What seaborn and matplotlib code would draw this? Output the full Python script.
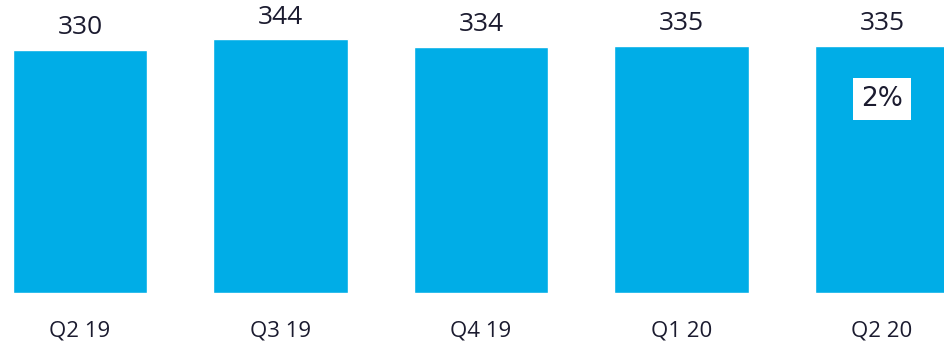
import pandas as pd
import numpy as np
import seaborn as sns
import matplotlib.pyplot as plt

# quarterly values
quarters = ['Q2 19', 'Q3 19', 'Q4 19', 'Q1 20', 'Q2 20']
values = [330, 344, 334, 335, 335]
growth_label = '2%'

bar_color = '#00ADE7'
text_color = '#1B1B2F'

sns.set_style('white')
plt.rcParams['font.family'] = ['Open Sans', 'DejaVu Sans']

df = pd.DataFrame({'quarter': quarters, 'value': values})

fig = plt.figure(figsize=(9.45, 3.44), dpi=100)
ax = fig.add_axes([0, 51 / 344, 1, 293 / 344])

sns.barplot(data=df, x='quarter', y='value', color=bar_color, saturation=1,
            width=0.67, ax=ax)

ax.set_xlim(-0.399, 4.314)
ax.set_ylim(0, 397.6)

# value labels above each bar
for i, v in enumerate(values):
    ax.annotate(str(v), (i, v), xytext=(0, 16), textcoords='offset points',
                ha='center', va='center', fontsize=19, color=text_color)

# growth box on the last bar
ax.text(len(values) - 1, 263, growth_label, ha='center', va='center',
        fontsize=19, color=text_color, family='DejaVu Sans',
        bbox=dict(boxstyle='square,pad=0.3', facecolor='white', edgecolor='none'))

ax.set_xlabel('')
ax.set_ylabel('')
ax.set_yticks([])
ax.tick_params(axis='x', length=0, pad=20, labelsize=16, labelcolor=text_color)
sns.despine(ax=ax, left=True, bottom=True)

plt.savefig('out.png', dpi=100)
